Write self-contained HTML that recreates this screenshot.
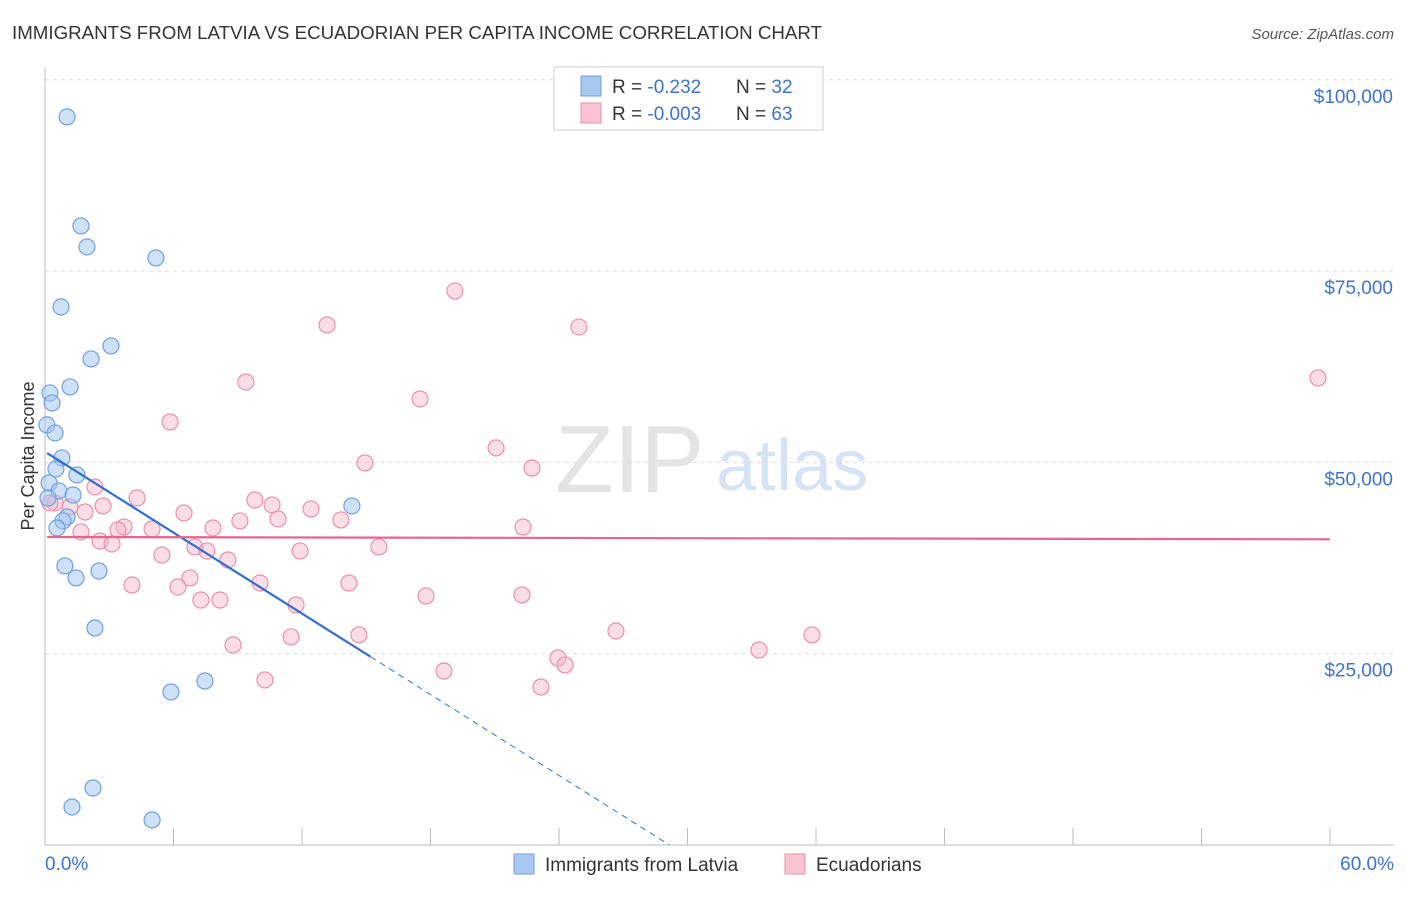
<!DOCTYPE html>
<html><head><meta charset="utf-8"><style>
body{margin:0;background:#fff;font-family:"Liberation Sans",sans-serif}
svg text{font-family:"Liberation Sans",sans-serif}
</style></head><body>
<svg id="c" width="1406" height="892"></svg>
<script>
const latviaX=[1.03,1.68,1.96,5.18,0.75,3.08,2.15,1.17,0.23,0.33,0.09,0.47,0.79,0.51,1.49,0.19,0.65,1.31,14.33,1.03,0.84,0.56,0.93,1.45,2.52,2.33,5.88,7.47,2.24,1.26,5.00,0.14];
const latviaY=[95150,80900,78160,76720,70320,65220,63520,59860,59080,57770,54900,53850,50580,49140,48360,47310,46270,45740,44310,42870,42350,41430,36470,34900,35810,28360,20000,21430,7450,4970,3270,45350];
const ecuX=[19.14,13.17,24.93,59.44,9.38,17.51,5.84,21.06,14.94,22.74,2.33,4.30,9.80,10.60,0.47,1.17,2.71,1.87,6.49,12.42,10.88,7.84,9.10,13.82,22.32,3.69,3.41,5.00,1.68,2.57,3.13,7.00,7.56,15.59,11.91,5.46,8.54,6.77,4.06,10.04,14.19,6.21,7.28,8.17,17.79,22.27,11.72,26.66,35.81,14.66,11.49,8.78,33.34,23.95,24.28,18.63,10.27,23.16,0.23];
const ecuY=[72410,67960,67700,61040,60510,58290,55290,51890,49930,49270,46790,45350,45090,44440,44700,44180,44310,43520,43390,43920,42610,41430,42350,42480,41560,41560,41170,41300,40910,39730,39340,38950,38430,38950,38430,37900,37250,34900,33980,34240,34240,33720,32020,32020,32540,32680,31370,27970,27450,27450,27190,26140,25490,24440,23530,22740,21570,20650,44700];
const yTicks=[25000,50000,75000,100000];
const yTickLabels=["$25,000","$50,000","$75,000","$100,000"];
const latviaTrend=[51400,-1763];
const ecuTrend=[40250,-5];
const svg=document.getElementById('c');const NS='http://www.w3.org/2000/svg';
function X(v){return 45+v/60*1285}function Y(v){return 845-v/25000*191.3}
function mk(t,a,p){const e=document.createElementNS(NS,t);for(const k in a)e.setAttribute(k,a[k]);(p||svg).appendChild(e);return e}
let t=mk('text',{x:12,y:39,'font-size':18,fill:'#333',textLength:810,lengthAdjust:'spacingAndGlyphs'});t.textContent='IMMIGRANTS FROM LATVIA VS ECUADORIAN PER CAPITA INCOME CORRELATION CHART';


t=mk('text',{x:1394,y:39,'font-size':15,fill:'#555','text-anchor':'end','font-style':'italic'});t.textContent='Source: ZipAtlas.com';


yTicks.forEach((v,i)=>{mk('line',{x1:45,x2:1394,y1:Y(v),y2:Y(v),stroke:'#ddd','stroke-dasharray':'4,4'});
const l=mk('text',{x:1393,y:Y(v)+23,'font-size':19,fill:'#3d73d0','text-anchor':'end'});l.textContent=yTickLabels[i];

});
mk('line',{x1:45,x2:45,y1:68,y2:845,stroke:'#bbb'});mk('line',{x1:45,x2:1394,y1:845,y2:845,stroke:'#bbb'});
for(let i=0;i<=10;i++)mk('line',{x1:X(i*6),x2:X(i*6),y1:828,y2:845,stroke:'#bbb'});
t=mk('text',{x:45,y:870,'font-size':19,fill:'#3d73d0'});t.textContent='0.0%';


t=mk('text',{x:1394,y:870,'font-size':19,fill:'#3d73d0','text-anchor':'end'});t.textContent='60.0%';


t=mk('text',{x:34,y:456,'font-size':18,fill:'#333','text-anchor':'middle',transform:'rotate(-90 34 456)'});t.textContent='Per Capita Income';


t=mk('text',{x:555,y:492,'font-size':96,fill:'#e4e4e4','font-family':'Liberation Serif'});t.textContent='ZIP';


t=mk('text',{x:716,y:490,'font-size':72,fill:'#d6e3f5'});t.textContent='atlas';


ecuX.forEach((x,i)=>{const c=mk('circle',{cx:X(x),cy:Y(ecuY[i]),r:8,fill:'rgba(245,180,200,0.45)',stroke:'#e890ab','stroke-width':1.2});

});
latviaX.forEach((x,i)=>{const c=mk('circle',{cx:X(x),cy:Y(latviaY[i]),r:8,fill:'rgba(160,195,240,0.5)',stroke:'#6f9fe0','stroke-width':1.2});

});
const lt=x=>latviaTrend[0]+latviaTrend[1]*x;
let ln=mk('line',{x1:X(0.1),y1:Y(lt(0.1)),x2:X(15.2),y2:Y(lt(15.2)),stroke:'#2f6fd6','stroke-width':2.2});


const xEnd=-latviaTrend[0]/latviaTrend[1];
ln=mk('line',{x1:X(15.2),y1:Y(lt(15.2)),x2:X(xEnd),y2:Y(0),stroke:'#2f6fd6','stroke-width':1,'stroke-dasharray':'6,5'});


ln=mk('line',{x1:X(0.1),y1:Y(ecuTrend[0]+ecuTrend[1]*0.1),x2:X(60),y2:Y(ecuTrend[0]+ecuTrend[1]*60),stroke:'#e8648f','stroke-width':2.2});


const lg=mk('g',{});
mk('rect',{x:554,y:67,width:269,height:63,fill:'#fff',stroke:'#ccc'},lg);
[[0,'#a9c8f0','#6f9fe0','-0.232','32'],[1,'#f9c3d3','#e890ab','-0.003','63']].forEach(r=>{const y=86+r[0]*27;
mk('rect',{x:581,y:y-10,width:20,height:20,fill:r[1],stroke:r[2]},lg);
let a=mk('text',{x:612,y:y+7,'font-size':19,fill:'#333'},lg);a.innerHTML='R = <tspan fill="#3d73d0">'+r[3]+'</tspan>';
a=mk('text',{x:736,y:y+7,'font-size':19,fill:'#333'},lg);a.innerHTML='N = <tspan fill="#3d73d0">'+r[4]+'</tspan>';});
[[514,'#a9c8f0','#6f9fe0','Immigrants from Latvia','legend-latvia'],[785,'#f9c3d3','#e890ab','Ecuadorians','legend-ecuadorians']].forEach(r=>{
const g=mk('g',{});
mk('rect',{x:r[0],y:854,width:20,height:20,fill:r[1],stroke:r[2]},g);
const a=mk('text',{x:r[0]+31,y:871,'font-size':19,fill:'#333'},g);a.textContent=r[3];});
</script></body></html>
